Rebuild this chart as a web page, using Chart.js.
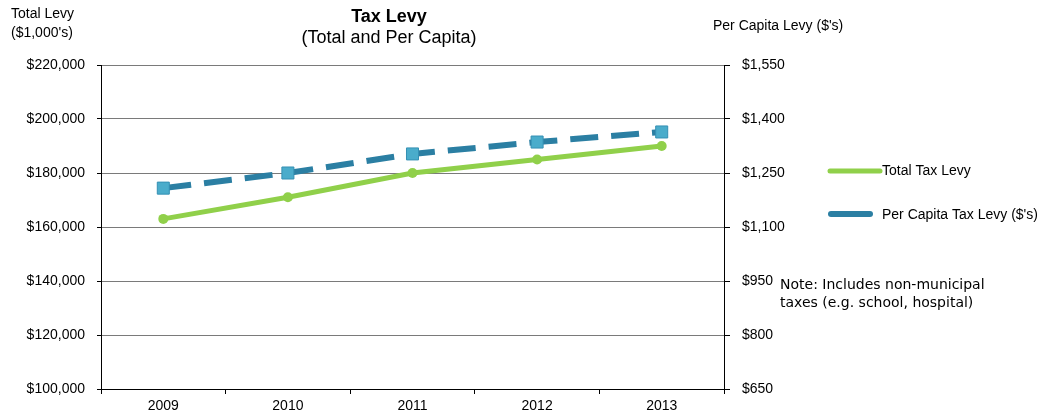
<!DOCTYPE html>
<html>
<head>
<meta charset="utf-8">
<script src="https://cdn.jsdelivr.net/npm/chart.js@4.4.0/dist/chart.umd.min.js"></script>
<style>
  html, body { margin: 0; padding: 0; background: #fff; }
  canvas { display: block; }
</style>
</head>
<body>
<canvas id="c" width="1049" height="419"></canvas>
<script>
const years = ['2009', '2010', '2011', '2012', '2013'];
const totalLevy = [163000, 171000, 180000, 185000, 190000];   // $1,000's
const perCapitaLevy = [1208, 1250, 1303, 1336, 1364];         // $'s
const leftTicks = [100000, 120000, 140000, 160000, 180000, 200000, 220000];
const rightTicks = [650, 800, 950, 1100, 1250, 1400, 1550];

const GREEN = '#90d04a';
const BLUE = '#2b7fa3';
const BLUE_FILL = '#4aaccb';
const FONT = "'Liberation Sans', Arial, sans-serif";

const money = v => '$' + v.toLocaleString('en-US');

// titles, axis captions, legend and note
const extras = {
    id: 'extras',
    afterDraw(chart) {
        const ctx = chart.ctx;
        ctx.save();
        ctx.fillStyle = '#000';
        ctx.textBaseline = 'middle';

        ctx.textAlign = 'center';
        ctx.font = 'bold 18px ' + FONT;
        ctx.fillText('Tax Levy', 389, 17);
        ctx.font = '18px ' + FONT;
        ctx.fillText('(Total and Per Capita)', 389, 38);

        ctx.textAlign = 'left';
        ctx.font = '14px ' + FONT;
        ctx.fillText('Total Levy', 11, 14);
        ctx.fillText("($1,000's)", 11, 33);
        ctx.fillText("Per Capita Levy ($'s)", 713, 26);

        // legend
        ctx.lineCap = 'round';
        ctx.strokeStyle = GREEN;
        ctx.lineWidth = 5;
        ctx.beginPath(); ctx.moveTo(830, 171); ctx.lineTo(880, 171); ctx.stroke();
        ctx.strokeStyle = BLUE;
        ctx.lineWidth = 6;
        ctx.beginPath(); ctx.moveTo(831, 214); ctx.lineTo(870, 214); ctx.stroke();
        ctx.fillText('Total Tax Levy', 882, 171);
        ctx.fillText("Per Capita Tax Levy ($'s)", 882, 215);

        ctx.font = "14px 'DejaVu Sans', Verdana, sans-serif";
        ctx.fillText('Note: Includes non-municipal', 780, 285);
        ctx.fillText('taxes (e.g. school, hospital)', 780, 303);
        ctx.restore();
    }
};

const chart = new Chart(document.getElementById('c'), {
    type: 'line',
    data: {
        labels: years,
        datasets: [{
            label: 'Total Tax Levy',
            data: totalLevy,
            yAxisID: 'y',
            borderColor: GREEN,
            backgroundColor: GREEN,
            borderWidth: 5,
            pointStyle: 'circle',
            pointRadius: 5,
            pointBorderWidth: 0,
            tension: 0
        }, {
            label: "Per Capita Tax Levy ($'s)",
            data: perCapitaLevy,
            yAxisID: 'y1',
            borderColor: BLUE,
            backgroundColor: BLUE_FILL,
            borderWidth: 6,
            borderDash: [28, 13],
            pointStyle: 'rect',
            pointRadius: 8.5,
            pointBorderColor: '#3590b4',
            pointBorderWidth: 1,
            tension: 0
        }]
    },
    options: {
        responsive: false,
        animation: false,
        layout: { padding: { left: 0, right: 0, top: 65, bottom: 0 } },
        plugins: { legend: { display: false }, tooltip: { enabled: false } },
        scales: {
            x: {
                offset: true,
                grid: { offset: true, drawOnChartArea: false, color: '#000', tickLength: 5 },
                border: { color: '#000', width: 1 },
                ticks: { color: '#000', font: { family: FONT, size: 14 }, padding: 4 },
                afterFit(s) { s.height = 30; }
            },
            y: {
                position: 'left',
                min: 100000, max: 220000,
                afterBuildTicks(s) { s.ticks = leftTicks.map(v => ({ value: v })); },
                grid: { color: '#7a7a7a', tickColor: '#000', tickLength: 4, lineWidth: 1 },
                border: { color: '#000', width: 1 },
                ticks: { color: '#000', font: { family: FONT, size: 14 }, padding: 12, callback: v => money(v) },
                afterFit(s) { s.width = 101; }
            },
            y1: {
                position: 'right',
                min: 650, max: 1550,
                afterBuildTicks(s) { s.ticks = rightTicks.map(v => ({ value: v })); },
                grid: { drawOnChartArea: false, tickColor: '#000', tickLength: 6 },
                border: { color: '#000', width: 1 },
                ticks: { color: '#000', font: { family: FONT, size: 14 }, padding: 12, callback: v => money(v) },
                afterFit(s) { s.width = 325; }
            }
        }
    },
    plugins: [extras]
});
</script>
</body>
</html>
